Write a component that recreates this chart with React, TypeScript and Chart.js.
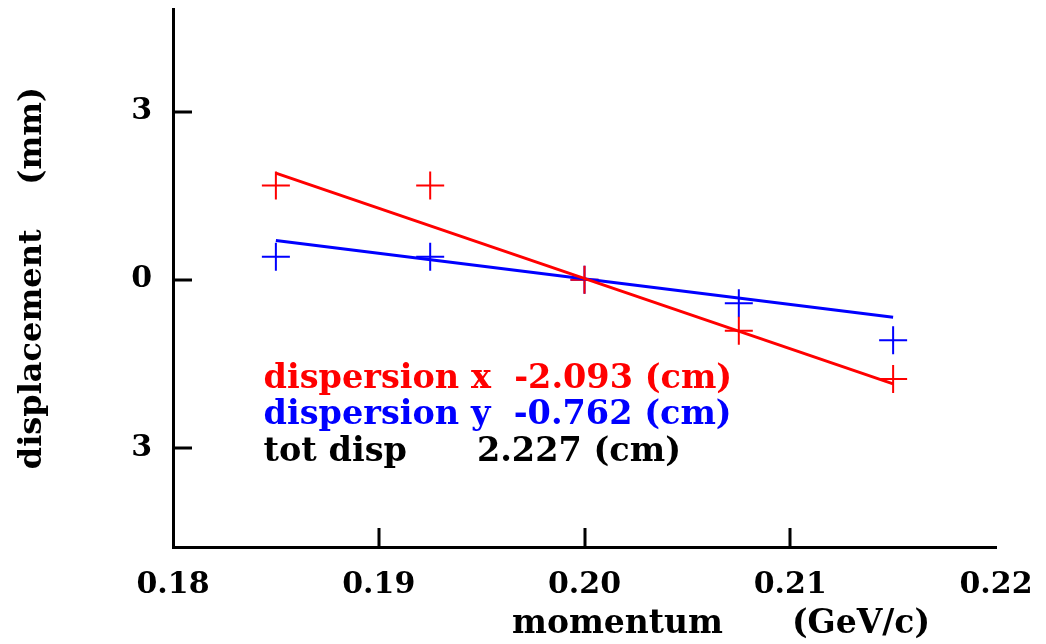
import { useEffect, useRef } from 'react';
import { Chart, registerables } from 'chart.js';

Chart.register(...registerables);

// Beam momentum settings (GeV/c) and measured displacements (mm)
const momentum = [0.185, 0.1925, 0.2, 0.2075, 0.215];
const displacementX = [1.68, 1.68, 0, -0.91, -1.77];
const displacementY = [0.41, 0.41, 0, -0.42, -1.08];

// Straight-line fits, evaluated at the ends of the scan
const fitMomentum = [0.185, 0.215];
const fitX = [1.9, -1.86];
const fitY = [0.7, -0.67];

// Axis ticks
const xTickValues = [0.18, 0.19, 0.2, 0.21, 0.22];
const yTickValues = [-3, 0, 3];

// Fit summary printed inside the plot
const summaryLines = [
  { text: 'dispersion x  -2.093 (cm)', color: '#ff0000' },
  { text: 'dispersion y  -0.762 (cm)', color: '#0000ff' },
  { text: 'tot disp      2.227 (cm)', color: '#000000' },
];
const summaryAnchor = { x: 0.1844, y: -1.93 };

const FONT = "'DejaVu Serif', serif";
const RED = '#ff0000';
const BLUE = '#0000ff';

const toPoints = (xs: number[], ys: number[]) => xs.map((x, i) => ({ x, y: ys[i] }));

// Inward tick marks, the x-axis title and the fit summary text
const decorations = {
  id: 'decorations',
  afterDraw(chart: any) {
    const { ctx, chartArea, scales } = chart;
    const xs = scales.x;
    const ys = scales.y;
    const tickLen = 19;
    ctx.save();
    ctx.strokeStyle = '#000';
    ctx.lineWidth = 3;
    ctx.beginPath();
    xTickValues.slice(1, -1).forEach((v) => {
      const px = Math.round(xs.getPixelForValue(v));
      ctx.moveTo(px, chartArea.bottom);
      ctx.lineTo(px, chartArea.bottom - tickLen);
    });
    yTickValues.forEach((v) => {
      const py = Math.round(ys.getPixelForValue(v));
      ctx.moveTo(chartArea.left, py);
      ctx.lineTo(chartArea.left + tickLen, py);
    });
    ctx.stroke();

    // x-axis title
    ctx.fillStyle = '#000';
    ctx.font = `bold 33px ${FONT}`;
    ctx.textAlign = 'left';
    ctx.textBaseline = 'alphabetic';
    ctx.fillText('momentum      (GeV/c)', 512, 633);

    // fit summary
    ctx.font = `bold 33.5px ${FONT}`;
    const x0 = xs.getPixelForValue(summaryAnchor.x);
    const y0 = ys.getPixelForValue(summaryAnchor.y);
    summaryLines.forEach((line, i) => {
      ctx.fillStyle = line.color;
      ctx.fillText(line.text, x0, y0 + i * 36.5);
    });
    ctx.restore();
  },
};

export default function App() {
  const canvasRef = useRef<HTMLCanvasElement | null>(null);

  useEffect(() => {
    const canvas = canvasRef.current;
    if (!canvas) return;
    const chart = new Chart(canvas, {
      type: 'scatter',
      data: {
        datasets: [
          {
            type: 'line',
            data: toPoints(fitMomentum, fitX),
            borderColor: RED,
            borderWidth: 3,
            pointRadius: 0,
            fill: false,
          },
          {
            type: 'line',
            data: toPoints(fitMomentum, fitY),
            borderColor: BLUE,
            borderWidth: 3,
            pointRadius: 0,
            fill: false,
          },
          {
            data: toPoints(momentum, displacementX),
            pointStyle: 'cross',
            pointRadius: 14,
            borderColor: RED,
            borderWidth: 2,
          },
          {
            data: toPoints(momentum, displacementY),
            pointStyle: 'cross',
            pointRadius: 14,
            borderColor: BLUE,
            borderWidth: 2,
          },
        ],
      },
      options: {
        responsive: false,
        animation: false,
        events: [],
        layout: { autoPadding: false, padding: { top: 9, right: 50, left: 0, bottom: 0 } },
        plugins: {
          legend: { display: false },
          tooltip: { enabled: false },
        },
        scales: {
          x: {
            type: 'linear',
            min: 0.18,
            max: 0.22,
            afterBuildTicks: (scale: any) => {
              scale.ticks = xTickValues.map((value) => ({ value }));
            },
            afterFit: (scale: any) => {
              scale.height = 97;
              scale.paddingLeft = 0;
              scale.paddingRight = 0;
            },
            ticks: {
              autoSkip: false,
              maxRotation: 0,
              padding: 20,
              color: '#000',
              font: { family: FONT, weight: 'bold', size: 30 },
              callback: (v: any) => Number(v).toFixed(2),
            },
            grid: { display: true, drawOnChartArea: false, drawTicks: false },
            border: { display: true, color: '#000', width: 3 },
          },
          y: {
            type: 'linear',
            min: -4.77,
            max: 4.83,
            afterBuildTicks: (scale: any) => {
              scale.ticks = yTickValues.map((value) => ({ value }));
            },
            afterFit: (scale: any) => {
              scale.width = 173;
              scale.paddingTop = 0;
              scale.paddingBottom = 0;
            },
            ticks: {
              padding: 21,
              color: '#000',
              font: { family: FONT, weight: 'bold', size: 30 },
              callback: (v: any) => String(Math.abs(Number(v))),
            },
            grid: { display: true, drawOnChartArea: false, drawTicks: false },
            border: { display: true, color: '#000', width: 3 },
            title: {
              display: true,
              text: 'displacement    (mm)',
              color: '#000',
              font: { family: FONT, weight: 'bold', size: 32 },
              padding: { top: 13, bottom: 0 },
            },
          },
        },
      },
      plugins: [decorations],
    });
    return () => chart.destroy();
  }, []);

  return (
    <div style={{ position: 'absolute', left: 0, top: 0, width: 1046, height: 644, background: '#fff' }}>
      <canvas ref={canvasRef} width={1046} height={644} />
    </div>
  );
}
